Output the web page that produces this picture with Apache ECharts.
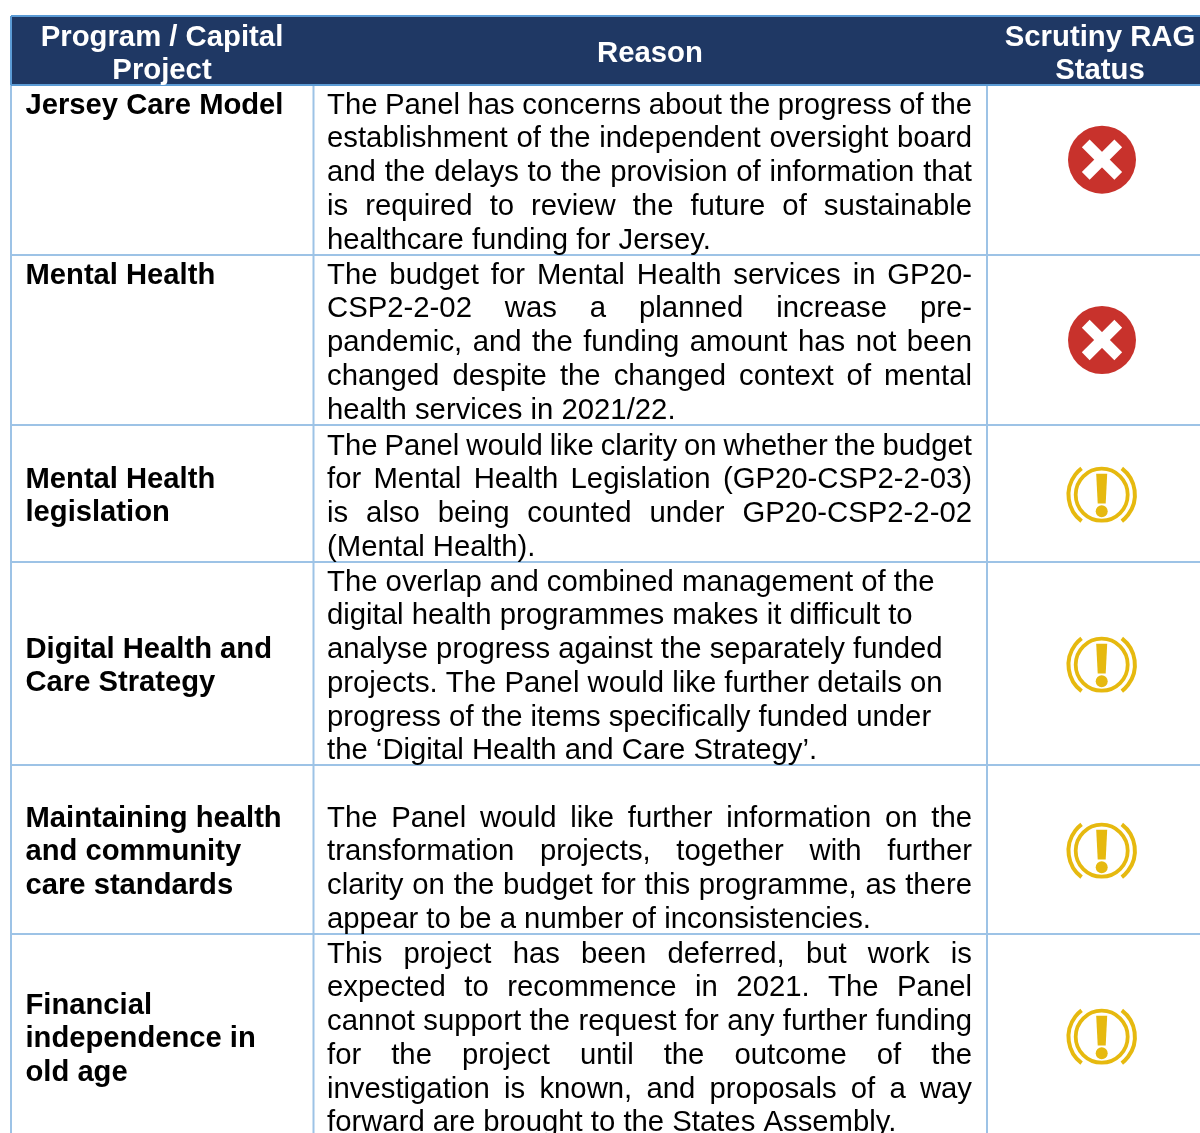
<!DOCTYPE html>
<html>
<head>
<meta charset="utf-8">
<style>
  html, body { margin: 0; padding: 0; background: #fff; }
  #main { width: 1200px; height: 1133px; }
</style>
<script src="https://cdn.jsdelivr.net/npm/echarts@6/dist/echarts.min.js"></script>
</head>
<body>
<div id="main"></div>
<script>
// table content
const headers = [["Program / Capital", "Project"], ["Reason"], ["Scrutiny RAG", "Status"]];
const programs = [
  ["Jersey Care Model"],
  ["Mental Health"],
  ["Mental Health", "legislation"],
  ["Digital Health and", "Care Strategy"],
  ["Maintaining health", "and community", "care standards"],
  ["Financial", "independence in", "old age"],
];
const reasons = [
  ["The Panel has concerns about the progress of the", "establishment of the independent oversight board", "and the delays to the provision of information that", "is required to review the future of sustainable", "healthcare funding for Jersey."],
  ["The budget for Mental Health services in GP20-", "CSP2-2-02 was a planned increase pre-", "pandemic, and the funding amount has not been", "changed despite the changed context of mental", "health services in 2021/22."],
  ["The Panel would like clarity on whether the budget", "for Mental Health Legislation (GP20-CSP2-2-03)", "is also being counted under GP20-CSP2-2-02", "(Mental Health)."],
  ["The overlap and combined management of the", "digital health programmes makes it difficult to", "analyse progress against the separately funded", "projects. The Panel would like further details on", "progress of the items specifically funded under", "the ‘Digital Health and Care Strategy’."],
  ["The Panel would like further information on the", "transformation projects, together with further", "clarity on the budget for this programme, as there", "appear to be a number of inconsistencies."],
  ["This project has been deferred, but work is", "expected to recommence in 2021. The Panel", "cannot support the request for any further funding", "for the project until the outcome of the", "investigation is known, and proposals of a way", "forward are brought to the States Assembly."],
];
const ragStatus = ["red", "red", "amber", "amber", "amber", "amber"];
const reasonJustified = [true, true, true, false, true, true];

// layout of the page table, in pixels
const colEdges = [11, 313.5, 987, 1200];
const rowEdges = [16, 85, 255, 425, 562, 765, 934, 1133];
const headerCentres = [162, 650, 1100];
const headerBaselines = [[45, 78], [61], [45, 78]];
const programBaselines = [113, 283, 487, 657, 826, 1013];
const reasonBaselines = [113, 283, 454, 590, 826, 962];
const iconCentres = [[1102, 159.7], [1102, 340], [1101.7, 494.7], [1101.7, 664.7], [1101.7, 850.7], [1101.7, 1036.7]];
const textLeft = [25.5, 327];
const textRight = 972;
const linePitch = 33.75;
const fontFamily = '"Liberation Sans", Arial, sans-serif';
const bodySize = 29.3;
const programSize = 29.2;
const headSize = 29.3;
const baselineDrop = 7.5; // distance from the middle of the line box to the baseline

const measure = document.createElement("canvas").getContext("2d");
function textWidth(str, font) {
  measure.font = font;
  return measure.measureText(str).width;
}

// flat lists the custom series draw from
const textItems = [];
function addText(str, x, y, opts) {
  textItems.push({ str, x, y, ...opts });
}
headers.forEach((lines, c) => {
  lines.forEach((str, i) => {
    addText(str, headerCentres[c], headerBaselines[c][i], { weight: "bold", size: headSize, color: "#fff", align: "center" });
  });
});
programs.forEach((lines, r) => {
  lines.forEach((str, i) => {
    addText(str, textLeft[0], programBaselines[r] + i * linePitch, { weight: "bold", size: programSize, color: "#000", align: "left" });
  });
});
reasons.forEach((lines, r) => {
  lines.forEach((str, i) => {
    const y = reasonBaselines[r] + i * linePitch;
    const base = { weight: "normal", size: bodySize, color: "#000", align: "left" };
    const isLast = i === lines.length - 1;
    if (!reasonJustified[r] || isLast) {
      addText(str, textLeft[1], y, base);
      return;
    }
    // justified line: spread the words across the cell
    const font = "normal " + bodySize + "px " + fontFamily;
    const words = str.split(" ");
    const used = words.reduce((s, w) => s + textWidth(w, font), 0);
    const gap = (textRight - textLeft[1] - used) / (words.length - 1);
    let x = textLeft[1];
    words.forEach((w) => {
      addText(w, x, y, base);
      x += textWidth(w, font) + gap;
    });
  });
});

const ruleItems = [];
// body rules first so the header rules sit on top
for (let r = 2; r < rowEdges.length - 1; r++) {
  ruleItems.push([colEdges[0], rowEdges[r], colEdges[3], rowEdges[r], "#9dc3e6"]);
}
colEdges.slice(0, 3).forEach((x) => {
  ruleItems.push([x, rowEdges[1], x, rowEdges[7], "#9dc3e6"]);
});
ruleItems.push([colEdges[0], rowEdges[0], colEdges[3], rowEdges[0], "#5b9bd5"]);
ruleItems.push([colEdges[0], rowEdges[1], colEdges[3], rowEdges[1], "#5b9bd5"]);
ruleItems.push([colEdges[0], rowEdges[0], colEdges[0], rowEdges[1], "#5b9bd5"]);

function renderHeaderBand(params, api) {
  const a = api.coord([colEdges[0], rowEdges[0]]);
  const b = api.coord([colEdges[3], rowEdges[1]]);
  return { type: "rect", shape: { x: a[0], y: a[1], width: b[0] - a[0], height: b[1] - a[1] }, style: { fill: "#1f3864" } };
}

function renderRule(params, api) {
  const it = ruleItems[params.dataIndex];
  const a = api.coord([it[0], it[1]]);
  const b = api.coord([it[2], it[3]]);
  return { type: "line", shape: { x1: a[0], y1: a[1], x2: b[0], y2: b[1] }, style: { stroke: it[4], lineWidth: 2 } };
}

function renderText(params, api) {
  const it = textItems[params.dataIndex];
  const p = api.coord([it.x, it.y - baselineDrop]);
  return {
    type: "text",
    x: p[0],
    y: p[1],
    style: {
      text: it.str,
      fill: it.color,
      font: it.weight + " " + it.size + "px " + fontFamily,
      textAlign: it.align,
      verticalAlign: "middle",
    },
  };
}

function renderIcon(params, api) {
  const status = ragStatus[params.dataIndex];
  const c = api.coord(iconCentres[params.dataIndex]);
  const [cx, cy] = c;
  if (status === "red") {
    const arm = (rot) => ({
      type: "rect",
      x: cx, y: cy, rotation: rot,
      shape: { x: -23, y: -5.5, width: 46, height: 11 },
      style: { fill: "#fff" },
    });
    return {
      type: "group",
      children: [
        { type: "circle", shape: { cx, cy, r: 34 }, style: { fill: "#c8322c" } },
        arm(Math.PI / 4),
        arm(-Math.PI / 4),
      ],
    };
  }
  const amber = "#e6b90f";
  const bow = (mid) => ({
    type: "arc",
    shape: { cx, cy, r: 33.2, startAngle: mid - 0.92, endAngle: mid + 0.92 },
    style: { fill: null, stroke: amber, lineWidth: 4 },
  });
  return {
    type: "group",
    children: [
      { type: "circle", shape: { cx, cy, r: 26 }, style: { fill: null, stroke: amber, lineWidth: 3.8 } },
      bow(0),
      bow(Math.PI),
      {
        type: "polygon",
        shape: { points: [[cx - 5.5, cy - 21], [cx + 5.5, cy - 21], [cx + 4, cy + 8.7], [cx - 4, cy + 8.7]] },
        style: { fill: amber },
      },
      { type: "circle", shape: { cx, cy: cy + 16.5, r: 6 }, style: { fill: amber } },
    ],
  };
}

const chart = echarts.init(document.getElementById("main"));
const hiddenSeries = { type: "custom", coordinateSystem: "cartesian2d", silent: true, animation: false, clip: false };
chart.setOption({
  animation: false,
  backgroundColor: "#fff",
  tooltip: { show: false },
  grid: { left: 0, right: 0, top: 0, bottom: 0 },
  xAxis: { type: "value", min: 0, max: 1200, show: false },
  yAxis: { type: "value", min: 0, max: 1133, inverse: true, show: false },
  series: [
    { ...hiddenSeries, name: "header", renderItem: renderHeaderBand, data: [[0, 0]] },
    { ...hiddenSeries, name: "rules", renderItem: renderRule, data: ruleItems.map((r) => [r[0], r[1]]) },
    { ...hiddenSeries, name: "text", renderItem: renderText, data: textItems.map((t) => [t.x, t.y]) },
    { ...hiddenSeries, name: "rag", renderItem: renderIcon, data: iconCentres },
  ],
});
</script>
</body>
</html>
